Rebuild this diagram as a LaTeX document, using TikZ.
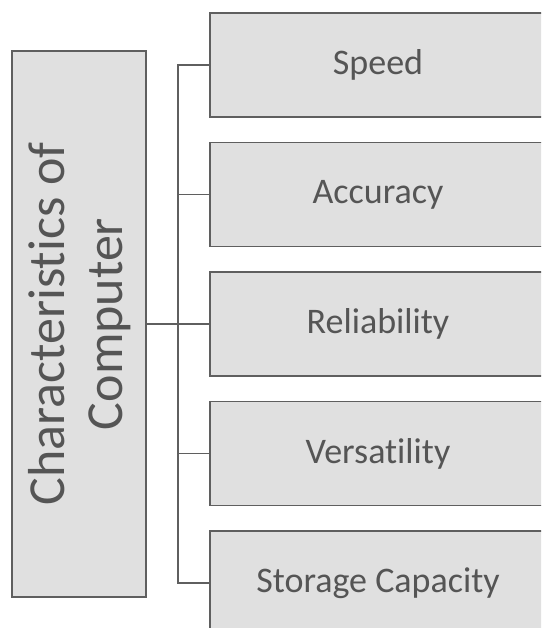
\documentclass[tikz,border=0pt]{standalone}
\usepackage{fontspec}
\setmainfont{Carlito}[RawFeature={-liga;-clig;-dlig}]
\definecolor{boxfill}{RGB}{224,224,224}
\definecolor{boxline}{RGB}{95,95,95}
\definecolor{txt}{RGB}{85,85,85}
\tikzset{
  itembox/.style={draw=boxline, line width=1.8pt, fill=boxfill, minimum width=336pt, minimum height=104pt, inner sep=0pt, text=txt, font=\fontsize{36}{40}\selectfont},
  mainbox/.style={draw=boxline, line width=1.8pt, fill=boxfill, minimum width=134pt, minimum height=546pt, inner sep=0pt},
  maintext/.style={rotate=90, align=center, text=txt, inner sep=0pt, font=\fontsize{52}{58}\selectfont},
  link/.style={draw=boxline, line width=1.5pt}
}
\begin{document}
\begin{tikzpicture}[x=1pt,y=-1pt]
\useasboundingbox (0,0) rectangle (541,628);
\fill[white] (0,0) rectangle (541,628);
\clip (0,0) rectangle (541,628);
\node[mainbox] (L) at (79,324) {};
\node[maintext] (Lt) at (80,324) {Characteristics of\\Computer};
\node[itembox] (b1) at (378,65) {Speed};
\node[itembox] (b2) at (378,194.5) {Accuracy};
\node[itembox] (b3) at (378,324) {Reliability};
\node[itembox] (b4) at (378,453.5) {Versatility};
\node[itembox] (b5) at (378,583) {Storage Capacity};
\coordinate (t1) at (178,65);
\coordinate (t5) at (178,583);
\draw[link] (b1.west) -- (t1) -- (t5) -- (b5.west);
\draw[link] (L.east) -- (b3.west);
\draw[link] (b2.west) -- (b2.west -| t1);
\draw[link] (b4.west) -- (b4.west -| t1);
\end{tikzpicture}
\end{document}
